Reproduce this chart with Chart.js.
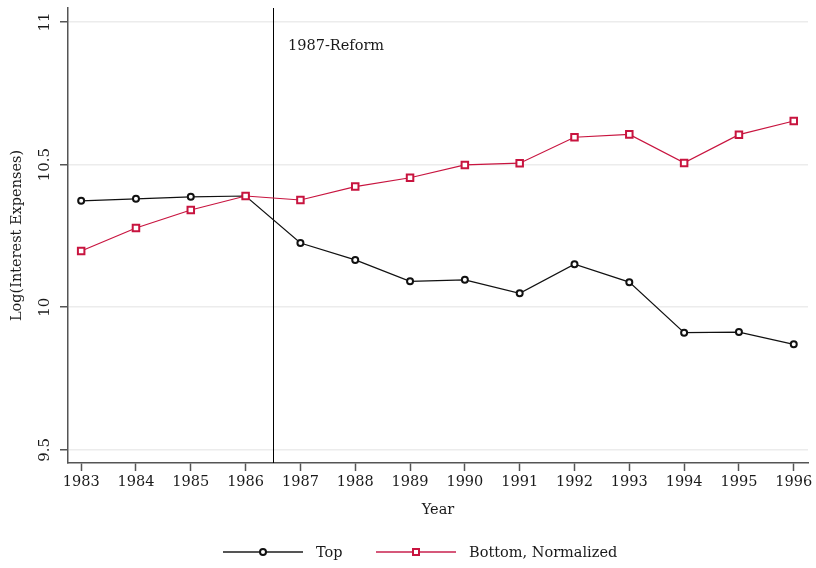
<!DOCTYPE html>
<html>
<head>
<meta charset="utf-8">
<title>Log(Interest Expenses)</title>
<script src="https://cdn.jsdelivr.net/npm/chart.js"></script>
<style>
  body { margin: 0; background: #fff; font-family: 'DejaVu Serif', serif; }
  .wrap { position: relative; width: 816px; height: 568px; }
  .leg-line { position: absolute; height: 2px; }
  .leg-mark { position: absolute; background: #fff; box-sizing: border-box; }
  .leg-text { position: absolute; top: 542px; line-height: 20px; font-size: 14.5px; color: #1a1a1a; white-space: nowrap; }
</style>
</head>
<body>
<div class="wrap">
  <canvas id="chart" width="816" height="568"></canvas>
  <div class="leg-line" style="left:223px;top:551px;width:80px;background:#555;"></div>
  <div class="leg-mark" style="left:259px;top:548px;width:8px;height:8px;border:2px solid #111;border-radius:50%;"></div>
  <div class="leg-text" style="left:316px;">Top</div>
  <div class="leg-line" style="left:376px;top:551px;width:80px;background:#d6587a;"></div>
  <div class="leg-mark" style="left:412px;top:548px;width:8px;height:8px;border:2px solid #c8143f;"></div>
  <div class="leg-text" style="left:469px;">Bottom, Normalized</div>
</div>
<script>
const years = [1983, 1984, 1985, 1986, 1987, 1988, 1989, 1990, 1991, 1992, 1993, 1994, 1995, 1996];
const topValues = [10.373, 10.380, 10.387, 10.390, 10.225, 10.166, 10.091, 10.096, 10.049, 10.151, 10.088, 9.911, 9.913, 9.870];
const bottomValues = [10.197, 10.278, 10.341, 10.390, 10.376, 10.423, 10.454, 10.499, 10.505, 10.596, 10.606, 10.506, 10.605, 10.653];
const yTicks = [9.5, 10, 10.5, 11];
const yTickLabels = ['9.5', '10', '10.5', '11'];
const reformYear = 1986.5;
const reformLabel = '1987-Reform';

const FONT = "'DejaVu Serif', serif";
const RED = '#c8143f';

// vertical reform line, reform label and rotated y tick labels
const extrasPlugin = {
  id: 'extras',
  beforeDatasetsDraw(chart) {
    const {ctx, chartArea, scales} = chart;
    const x = scales.x.getPixelForValue(reformYear);
    ctx.save();
    ctx.strokeStyle = '#000';
    ctx.lineWidth = 1;
    ctx.beginPath();
    ctx.moveTo(Math.round(x) + 0.5, chartArea.top);
    ctx.lineTo(Math.round(x) + 0.5, chartArea.bottom);
    ctx.stroke();
    ctx.fillStyle = '#1a1a1a';
    ctx.font = '14.5px ' + FONT;
    ctx.textAlign = 'left';
    ctx.textBaseline = 'middle';
    ctx.fillText(reformLabel, x + 15, 46);
    ctx.restore();
  },
  afterDraw(chart) {
    const {ctx, scales} = chart;
    ctx.save();
    ctx.fillStyle = '#1a1a1a';
    ctx.font = '15px ' + FONT;
    ctx.textAlign = 'center';
    ctx.textBaseline = 'middle';
    yTicks.forEach((v, i) => {
      ctx.save();
      ctx.translate(45, scales.y.getPixelForValue(v));
      ctx.rotate(-Math.PI / 2);
      ctx.fillText(yTickLabels[i], 0, 0);
      ctx.restore();
    });
    ctx.restore();
  }
};

const ctx = document.getElementById('chart').getContext('2d');
new Chart(ctx, {
  type: 'line',
  data: {
    datasets: [
      {
        label: 'Bottom, Normalized',
        data: years.map((yr, i) => ({x: yr, y: bottomValues[i]})),
        borderColor: RED,
        borderWidth: 1.2,
        pointStyle: 'rect',
        pointRadius: 4.6,
        pointBorderWidth: 2,
        pointBorderColor: RED,
        pointBackgroundColor: '#fff',
        order: 0
      },
      {
        label: 'Top',
        data: years.map((yr, i) => ({x: yr, y: topValues[i]})),
        borderColor: '#111',
        borderWidth: 1.2,
        pointStyle: 'circle',
        pointRadius: 3,
        pointBorderWidth: 2,
        pointBorderColor: '#111',
        pointBackgroundColor: '#fff',
        order: 1
      }
    ]
  },
  options: {
    responsive: false,
    animation: false,
    layout: { padding: { top: 8, right: 8, left: 0, bottom: 0 } },
    plugins: {
      legend: { display: false },
      tooltip: { enabled: false }
    },
    scales: {
      x: {
        type: 'linear',
        min: 1982.76,
        max: 1996.26,
        afterBuildTicks: scale => { scale.ticks = years.map(v => ({value: v})); },
        afterFit: scale => { scale.height = 105; },
        grid: { drawOnChartArea: false, drawTicks: true, tickLength: 8, tickColor: '#555', tickWidth: 1.5 },
        border: { color: '#555', width: 1.5 },
        ticks: {
          padding: 3,
          color: '#1a1a1a',
          font: { family: FONT, size: 14.5 },
          callback: v => String(v),
          maxRotation: 0
        },
        title: {
          display: true,
          text: 'Year',
          color: '#1a1a1a',
          font: { family: FONT, size: 14.5 },
          padding: { top: 0, bottom: 49 }
        }
      },
      y: {
        min: 9.454,
        max: 11.049,
        afterBuildTicks: scale => { scale.ticks = yTicks.map(v => ({value: v})); },
        afterFit: scale => { scale.width = 68; },
        grid: { color: '#ececec', lineWidth: 1.5, drawTicks: true, tickLength: 8, tickColor: '#555', tickWidth: 1.5 },
        border: { color: '#555', width: 1.5 },
        ticks: { display: false },
        title: {
          display: true,
          text: 'Log(Interest Expenses)',
          color: '#1a1a1a',
          font: { family: FONT, size: 14.5 },
          padding: { top: 9, bottom: 0 }
        }
      }
    }
  },
  plugins: [extrasPlugin]
});
</script>
</body>
</html>
